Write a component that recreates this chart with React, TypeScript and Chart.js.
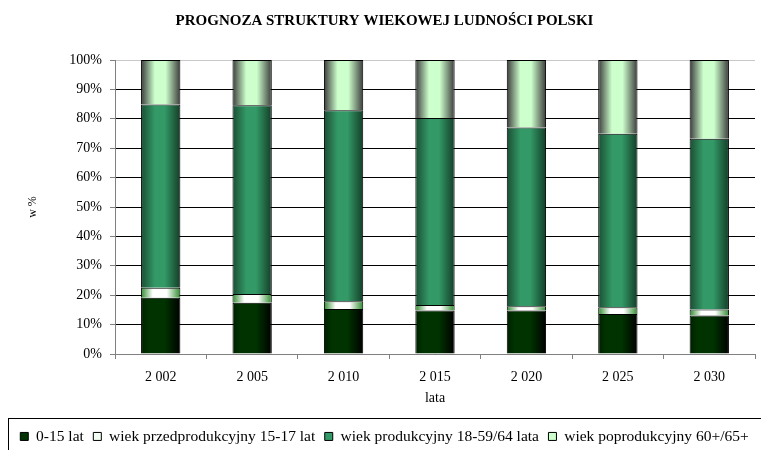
import { useEffect, useRef } from "react";
import { Chart, registerables } from "chart.js";

Chart.register(...registerables);

const categories = ["2 002", "2 005", "2 010", "2 015", "2 020", "2 025", "2 030"];
const seriesNames = [
  "0-15 lat",
  "wiek przedprodukcyjny 15-17 lat",
  "wiek produkcyjny 18-59/64 lata",
  "wiek poprodukcyjny 60+/65+",
];
const age0to15 = [19.1, 17.4, 15.3, 14.8, 14.8, 13.6, 13.1];
const age15to17 = [3.4, 3.0, 2.6, 1.9, 1.4, 2.3, 2.0];
const age18to64 = [62.4, 64.2, 65.0, 63.6, 60.8, 59.0, 58.1];
const age65plus = [15.1, 15.4, 17.1, 19.7, 23.0, 25.1, 26.8];
const titleText = "PROGNOZA STRUKTURY WIEKOWEJ LUDNOŚCI POLSKI";
const yAxisTitle = "w %";
const xAxisTitle = "lata";

const FONT = "'Liberation Serif', 'Times New Roman', serif";
const BAR_PCT = 0.43;
const legendColors = ["#003300", "#f2fff2", "#339966", "#ccffcc"];

function shade(stops: [number, string][], solid: string) {
  return (ctx: any) => {
    if (ctx.type !== "data") return solid;
    const chart = ctx.chart;
    const xs = chart.scales && chart.scales.x;
    if (!xs) return solid;
    const cx = xs.getPixelForValue(ctx.dataIndex);
    const w = (xs.width / categories.length) * BAR_PCT;
    if (!isFinite(cx) || !isFinite(w) || w <= 0) return solid;
    const g = chart.ctx.createLinearGradient(cx - w / 2, 0, cx + w / 2, 0);
    for (const [o, c] of stops) g.addColorStop(o, c);
    return g;
  };
}

const legendFrame = {
  id: "legendFrame",
  afterDraw(chart: any) {
    const c = chart.ctx;
    const top = Math.round(chart.legend.top) - 0.5;
    c.save();
    c.strokeStyle = "#000";
    c.lineWidth = 1;
    c.strokeRect(8.5, top, 900, 100);
    c.restore();
  },
};

export default function App() {
  const ref = useRef<HTMLCanvasElement | null>(null);

  useEffect(() => {
    document.body.style.margin = "0";
    const canvas = ref.current!;
    const chart = new Chart(canvas, {
      type: "bar",
      data: {
        labels: categories,
        datasets: [
          {
            label: seriesNames[0],
            data: age0to15,
            backgroundColor: shade(
              [[0, "#001f00"], [0.2, "#003300"], [0.6, "#003300"], [1, "#000000"]],
              "#003300"
            ),
          },
          {
            label: seriesNames[1],
            data: age15to17,
            backgroundColor: shade(
              [[0, "#2e8b2e"], [0.3, "#ffffff"], [0.65, "#ffffff"], [1, "#2e8b2e"]],
              "#f4fff4"
            ),
          },
          {
            label: seriesNames[2],
            data: age18to64,
            backgroundColor: shade(
              [[0, "#1a4d33"], [0.35, "#339966"], [0.6, "#339966"], [1, "#133d28"]],
              "#339966"
            ),
          },
          {
            label: seriesNames[3],
            data: age65plus,
            backgroundColor: shade(
              [[0, "#3a3a3a"], [0.35, "#ccffcc"], [0.62, "#ccffcc"], [1, "#3a3a3a"]],
              "#ccffcc"
            ),
          },
        ].map((d) => ({
          ...d,
          borderColor: "#000",
          borderWidth: 1,
          barPercentage: BAR_PCT,
          categoryPercentage: 1,
        })),
      },
      options: {
        responsive: false,
        animation: false,
        layout: { padding: { left: 8, right: 0, top: 0, bottom: 0 } },
        plugins: {
          title: {
            display: true,
            text: titleText,
            color: "#000",
            font: { family: FONT, size: 15, weight: "bold" },
            padding: { top: 12, bottom: 30 },
          },
          legend: {
            display: true,
            position: "bottom",
            maxHeight: 30.8,
            labels: {
              color: "#000",
              font: { family: FONT, size: 15.5 },
              boxWidth: 8,
              boxHeight: 8,
              padding: 9.5,
              generateLabels: (ch: any) =>
                ch.data.datasets.map((ds: any, i: number) => ({
                  text: ds.label,
                  fillStyle: legendColors[i],
                  strokeStyle: "#000",
                  lineWidth: 1,
                  hidden: false,
                  datasetIndex: i,
                  fontColor: "#000",
                })),
            },
          },
          tooltip: { enabled: false },
        },
        scales: {
          x: {
            stacked: true,
            afterFit: (s: any) => {
              s.height = 65.2;
            },
            grid: {
              display: true,
              drawOnChartArea: false,
              drawTicks: true,
              tickLength: 5,
              tickColor: "#808080",
              offset: true,
            },
            border: { display: true, color: "#808080", width: 1 },
            ticks: {
              color: "#000",
              font: { family: FONT, size: 14 },
              padding: 10,
              maxRotation: 0,
            },
            title: {
              display: true,
              text: xAxisTitle,
              color: "#000",
              font: { family: FONT, size: 14 },
              padding: { top: 0, bottom: 12.8 },
            },
          },
          y: {
            stacked: true,
            min: 0,
            max: 100,
            afterFit: (s: any) => {
              s.width = 107;
            },
            grid: {
              color: (ctx: any) => (ctx.tick && ctx.tick.value === 100 ? "#c8c8c8" : "#000"),
              tickColor: "#808080",
              tickLength: 5,
              lineWidth: 1,
            },
            border: { display: true, color: "#808080", width: 1 },
            ticks: {
              stepSize: 10,
              color: "#000",
              padding: 8,
              font: { family: FONT, size: 14 },
              callback: (v: any) => v + "%",
            },
            title: {
              display: true,
              text: yAxisTitle,
              color: "#000",
              font: { family: FONT, size: 12 },
              padding: { top: 18, bottom: 0 },
            },
          },
          yRightGap: {
            type: "linear",
            position: "right",
            display: true,
            afterFit: (s: any) => {
              s.width = 6;
            },
            grid: { display: false, drawTicks: false },
            border: { display: false },
            ticks: { display: false },
          },
        },
      },
      plugins: [legendFrame],
    } as any);
    return () => chart.destroy();
  }, []);

  return (
    <div style={{ position: "absolute", left: 0, top: 0, width: 761, height: 450 }}>
      <canvas ref={ref} width={761} height={450} />
    </div>
  );
}
